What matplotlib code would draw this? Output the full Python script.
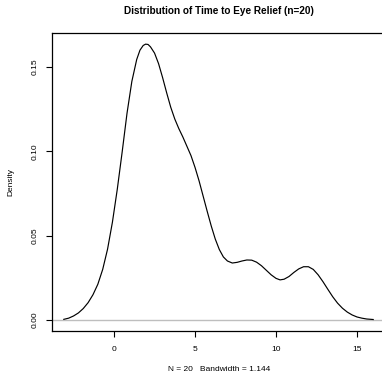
import matplotlib
matplotlib.use("Agg")
import matplotlib.pyplot as plt

plt.rcParams['font.family'] = ['Liberation Sans', 'DejaVu Sans']

# density curve (x = time, y = density)
time_x = [-3.1, -2.8, -2.5, -2.2, -1.9, -1.6, -1.3, -1.0, -0.7, -0.4,
          -0.1, 0.2, 0.5, 0.8, 1.1, 1.4, 1.6, 1.8, 1.95, 2.1,
          2.25, 2.5, 2.75, 3.0, 3.25, 3.5, 3.75, 4.0, 4.25, 4.5,
          4.75, 5.0, 5.25, 5.5, 5.75, 6.0, 6.25, 6.5, 6.75, 7.0,
          7.3, 7.6, 7.9, 8.2, 8.5, 8.8, 9.1, 9.4, 9.7, 10.0,
          10.25, 10.5, 10.8, 11.1, 11.4, 11.7, 12.0, 12.3, 12.6, 12.9,
          13.2, 13.5, 13.8, 14.1, 14.4, 14.7, 15.0, 15.3, 15.6, 16.0]
density = [0.0004, 0.0011, 0.0024, 0.0042, 0.0068, 0.0103, 0.0150, 0.0212, 0.0300, 0.0420,
           0.0580, 0.0775, 0.0995, 0.1225, 0.1415, 0.1545, 0.1600, 0.1628, 0.1636, 0.1634,
           0.1620, 0.1583, 0.1520, 0.1437, 0.1347, 0.1262, 0.1192, 0.1135, 0.1085, 0.1030,
           0.0975, 0.0905, 0.0825, 0.0735, 0.0645, 0.0558, 0.0480, 0.0418, 0.0374, 0.0350,
           0.0338, 0.0342, 0.0350, 0.0356, 0.0355, 0.0343, 0.0322, 0.0295, 0.0268, 0.0247,
           0.0238, 0.0242, 0.0258, 0.0282, 0.0303, 0.0316, 0.0316, 0.0300, 0.0268, 0.0227,
           0.0182, 0.0138, 0.0100, 0.0070, 0.0047, 0.0030, 0.0018, 0.0011, 0.0006, 0.0003]

x_ticks = [0, 5, 10, 15]
y_ticks = [0.00, 0.05, 0.10, 0.15]
y_ticklabels = ["0.00", "0.05", "0.10", "0.15"]

fig = plt.figure(figsize=(3.82, 3.75), dpi=100)
ax = fig.add_axes([0.1361, 0.1173, 0.8744, 0.7947])

ax.axhline(0, color="#bebebe", lw=1.0, zorder=1)
ax.plot(time_x, density, color="black", lw=0.85, zorder=2)

ax.set_xlim(-3.83, 16.79)
ax.set_ylim(-0.00652, 0.1702)
ax.set_xticks(x_ticks)
ax.set_yticks(y_ticks)
ax.set_yticklabels(y_ticklabels, rotation=90, va="center")
ax.tick_params(direction="out", length=4.3, width=0.8, labelsize=6)
ax.tick_params(axis="x", pad=6.5)
ax.tick_params(axis="y", pad=5)
for s in ax.spines.values():
    s.set_linewidth(0.9)

ax.set_title("Distribution of Time to Eye Relief (n=20)", fontsize=7.2,
             fontweight="bold", pad=14)
ax.set_xlabel("N = 20   Bandwidth = 1.144", fontsize=6, labelpad=9)
ax.set_ylabel("Density", fontsize=6, labelpad=13)

fig.savefig("out.png", dpi=100)
